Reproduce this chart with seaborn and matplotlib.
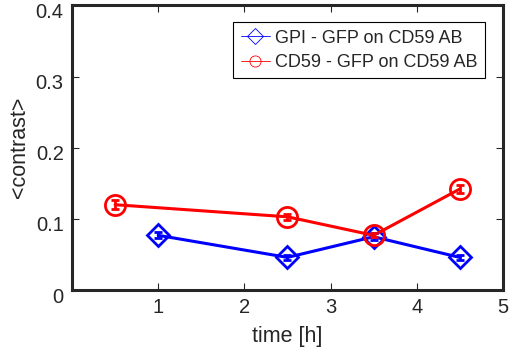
import pandas as pd
import matplotlib
matplotlib.use("Agg")
import matplotlib.pyplot as plt
import matplotlib.transforms as mtrans
import seaborn as sns

# valores
gpi_t = [1.0, 2.5, 3.5, 4.5]
gpi_c = [0.077, 0.046, 0.075, 0.046]
gpi_err = [0.004, 0.003, 0.005, 0.004]

cd59_t = [0.5, 2.5, 3.5, 4.5]
cd59_c = [0.120, 0.103, 0.077, 0.142]
cd59_err = [0.006, 0.004, 0.003, 0.005]

labels = ["GPI - GFP on CD59 AB", "CD59 - GFP on CD59 AB"]
colores = ["#0000ff", "#ff0000"]

df = pd.concat([
    pd.DataFrame({"time": gpi_t, "contrast": gpi_c, "serie": labels[0]}),
    pd.DataFrame({"time": cd59_t, "contrast": cd59_c, "serie": labels[1]}),
])

sns.set_style("ticks")
plt.rcParams["font.family"] = ["Liberation Sans", "DejaVu Sans"]

fig = plt.figure(figsize=(5.11, 3.53), dpi=100)
ax = fig.add_axes([0.141, 0.178, 0.843, 0.807])

sns.lineplot(data=df, x="time", y="contrast", hue="serie", style="serie",
             palette=colores, markers=["D", "o"], dashes=False, lw=2.2,
             markersize=14, markeredgewidth=2, ax=ax)

# marcadores huecos del color de cada linea
tamanos = {colores[0]: 11.5, colores[1]: 14.5}
for ln in ax.lines:
    ln.set_markerfacecolor("none")
    ln.set_markeredgecolor(ln.get_color())
    c = matplotlib.colors.to_hex(ln.get_color())
    if c in tamanos:
        ln.set_markersize(tamanos[c])

# barras de error pequeñas
ax.errorbar(gpi_t, gpi_c, yerr=gpi_err, fmt="none", ecolor=colores[0],
            elinewidth=2, capsize=3, capthick=2)
ax.errorbar(cd59_t, cd59_c, yerr=cd59_err, fmt="none", ecolor=colores[1],
            elinewidth=2, capsize=3, capthick=2)

ax.set_xlim(0, 5)
ax.set_ylim(0, 0.4)
ax.set_xticks([0, 1, 2, 3, 4, 5])
ax.set_xticklabels(["", "1", "2", "3", "4", "5"])
ax.set_yticks([0, 0.1, 0.2, 0.3, 0.4])
ax.set_yticklabels(["0", "0.1", "0.2", "0.3", "0.4"])
ax.tick_params(direction="in", top=True, right=True, labelsize=14.5,
               length=5, width=0.8, pad=6)
ax.set_xlabel("time [h]", fontsize=15.5, labelpad=6)
ax.set_ylabel("<contrast>", fontsize=15.5, labelpad=4)
for s in ax.spines.values():
    s.set_linewidth(2.2)
    s.set_visible(True)

# etiquetas del eje y un poco mas abajo (la de arriba no se corta)
desplaza = mtrans.ScaledTranslation(0, -5 / 100, fig.dpi_scale_trans)
for t in ax.get_yticklabels():
    t.set_transform(t.get_transform() + desplaza)

leg = ax.legend(loc="upper right", bbox_to_anchor=(0.958, 0.94), borderaxespad=0,
                fontsize=13, frameon=True, fancybox=False, edgecolor="black",
                framealpha=1, handlelength=1.6, handletextpad=0.3,
                borderpad=0.4, labelspacing=0.4)
leg.get_frame().set_linewidth(0.8)
for h in leg.legend_handles:
    h.set_linewidth(0.6)
    h.set_markeredgewidth(0.6)
    h.set_markerfacecolor("none")
    h.set_markeredgecolor(h.get_color())
    h.set_markersize(8)

plt.savefig("out.png", dpi=100)
